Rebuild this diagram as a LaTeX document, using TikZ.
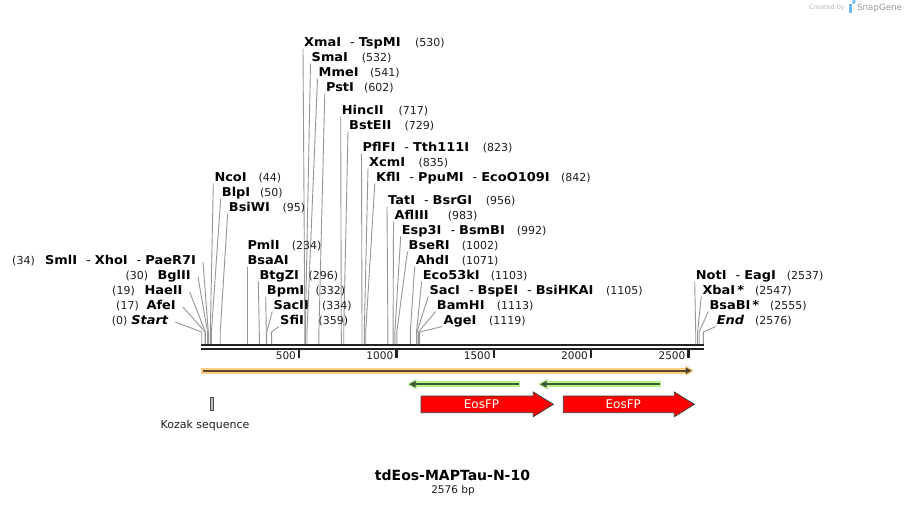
\documentclass[tikz,border=0pt]{standalone}
\usepackage{fontspec}
\setmainfont{DejaVu Sans}
\newfontfamily\labfont{DejaVu Sans}[FakeStretch=1.06]
\definecolor{numc}{RGB}{30,30,30}
\definecolor{connc}{RGB}{150,150,150}
\definecolor{bbc}{RGB}{34,34,34}
\definecolor{orL}{RGB}{253,206,128}
\definecolor{orD}{RGB}{88,72,46}
\definecolor{grL}{RGB}{184,240,140}
\definecolor{grD}{RGB}{62,88,52}
\definecolor{redF}{RGB}{255,0,0}
\definecolor{redO}{RGB}{60,60,60}
\definecolor{logoc}{RGB}{110,185,240}
\newcommand\sepp{\hspace{9pt}{\mdseries -}\hspace{4pt}}
\tikzset{
  lab/.style={inner sep=0pt, text height=8.6pt, text depth=0pt, font=\labfont\fontsize{12.2}{14}\selectfont\bfseries},
  num/.style={inner sep=0pt, text height=8.6pt, text depth=0pt, font=\fontsize{11}{13}\selectfont, text=numc},
  conn/.style={draw=connc, line width=0.9pt},
  bb/.style={draw=bbc, line width=2.3pt},
  tickmark/.style={draw=bbc, line width=2.2pt},
  ticklab/.style={inner sep=0pt, anchor=east, font=\fontsize{10.5}{12}\selectfont, text=numc},
  featarrow/.style={fill=redF, draw=redO, line width=0.8pt},
  featlab/.style={inner sep=0pt, text=white, font=\fontsize{12}{14}\selectfont},
}
% right-hand label: id, x, y, name, number x, number, site x
\newcommand\enzR[7]{%
  \node[lab,anchor=west] (n#1) at (#2,#3) {#4};
  \node[num,anchor=west] (m#1) at (#5,#3) {#6};
  \coordinate (s#1) at (#7,344);
  \draw[conn] ([shift={(-1pt,-2pt)}]n#1.south west) -- ([yshift=12pt]s#1) -- (s#1);
}
% left-hand label: id, right x, y, name, number right x, number, site x
\newcommand\enzL[7]{%
  \node[lab,anchor=east] (n#1) at (#2,#3) {#4};
  \node[num,anchor=east] (m#1) at (#5,#3) {#6};
  \coordinate (s#1) at (#7,344);
  \draw[conn] ([shift={(7pt,2.5pt)}]n#1.south east) -- ([yshift=12pt]s#1) -- (s#1);
}
\begin{document}
\begin{tikzpicture}[x=1pt,y=-1pt]
\fill[white] (0,0) rectangle (906,507);
\useasboundingbox (0,0) rectangle (906,507);

% watermark
\node[inner sep=0pt, anchor=east, text=black!28, font=\fontsize{6.5}{8}\selectfont] (wm1) at (845,8) {Created by};
\fill[logoc] (849,4) rectangle (851.5,13);
\fill[logoc] (851.5,4) -- (853,4) arc (90:-90:2.6) -- (851.5,9.2) -- cycle;
\node[inner sep=0pt, anchor=west, text=black!40, font=\fontsize{8.7}{10}\selectfont] (wm2) at (857,8) {SnapGene};

% backbone
\coordinate (bbL) at (201,345.2);
\coordinate (bbR) at (704.3,345.2);
\draw[bb] (bbL) -- (bbR);
\draw[bb] ([yshift=-4pt]bbL) -- ([yshift=-4pt]bbR);

% ticks
\foreach \t/\xx in {500/299.1,1000/396.4,1500/493.8,2000/591.1,2500/688.5}{
  \draw[tickmark] (\xx,350) -- (\xx,357.7);
  \node[ticklab] (tk\t) at (\xx-3,356) {\t};
}

% top cluster
\enzR{530}{304}{42}{XmaI\sepp TspMI}{415}{(530)}{304.9}
\enzR{532}{311.5}{57}{SmaI}{361.7}{(532)}{305.3}
\enzR{541}{318.5}{72}{MmeI}{370}{(541)}{307.0}
\enzR{602}{325.8}{87}{PstI}{364}{(602)}{318.9}
\enzR{717}{341.7}{110}{HincII}{398.3}{(717)}{341.3}
\enzR{729}{349}{125}{BstEII}{404.3}{(729)}{343.7}
\enzR{823}{362.5}{147}{PflFI\sepp Tth111I}{482.7}{(823)}{362.0}
\enzR{835}{369}{162}{XcmI}{418.3}{(835)}{364.3}
\enzR{842}{375.8}{177}{KflI\sepp PpuMI\sepp EcoO109I}{561}{(842)}{365.7}

% middle cluster
\enzR{956}{388}{200}{TatI\sepp BsrGI}{485.7}{(956)}{387.9}
\enzR{983}{394.5}{215}{AflIII}{447.7}{(983)}{393.1}
\enzR{992}{401.7}{230}{Esp3I\sepp BsmBI}{516.7}{(992)}{394.9}
\enzR{1002}{408.5}{245}{BseRI}{461.7}{(1002)}{396.8}
\enzR{1071}{415.7}{260}{AhdI}{461.7}{(1071)}{410.3}
\enzR{1103}{422.7}{275}{Eco53kI}{490.7}{(1103)}{416.5}
\enzR{1105}{429.3}{290}{SacI\sepp BspEI\sepp BsiHKAI}{606}{(1105)}{416.9}
\enzR{1113}{436.7}{305}{BamHI}{496.7}{(1113)}{418.4}
\enzR{1119}{443.3}{320}{AgeI}{489}{(1119)}{419.6}

% left-middle cluster
\enzR{44}{214.3}{177}{NcoI}{258.3}{(44)}{210.3}
\enzR{50}{221.7}{192}{BlpI}{260}{(50)}{211.4}
\enzR{95}{228.7}{207}{BsiWI}{282.3}{(95)}{220.2}
\node[lab,anchor=west] (nPml) at (247.3,245) {PmlI};
\node[num,anchor=west] (mPml) at (291.7,245) {(234)};
\node[lab,anchor=west] (n234) at (247.3,260) {BsaAI};
\coordinate (s234) at (247.3,344);
\draw[conn] ([shift={(0pt,-2pt)}]n234.south west) -- (s234);
\enzR{296}{259.3}{275}{BtgZI}{308.3}{(296)}{259.3}
\enzR{332}{266.7}{290}{BpmI}{315.5}{(332)}{266.3}
\enzR{334}{273.3}{305}{SacII}{322}{(334)}{266.7}
\enzR{359}{280}{320}{SfiI}{318.3}{(359)}{271.6}

% right cluster
\enzR{2537}{695.7}{275}{NotI\sepp EagI}{786.7}{(2537)}{695.7}
\enzR{2547}{702.3}{290}{XbaI\hspace{2pt}*}{755}{(2547)}{697.6}
\enzR{2555}{709.3}{305}{BsaBI\hspace{2pt}*}{770}{(2555)}{699.2}
\enzR{2576}{716.7}{320}{\itshape End}{755}{(2576)}{703.3}

% left cluster
\enzL{34}{196}{260}{SmlI\sepp XhoI\sepp PaeR7I}{35}{(34)}{208.3}
\enzL{30}{191}{275}{BglII}{148.3}{(30)}{207.5}
\enzL{19}{182.7}{290}{HaeII}{135}{(19)}{205.4}
\enzL{17}{176}{305}{AfeI}{139}{(17)}{205.0}
\enzL{0}{168.3}{320}{\itshape Start}{127.7}{(0)}{201.7}

% orange feature
\fill[orL] (201,367.7) rectangle (687,373.7);
\fill[orL] (686,365.5) -- (693.7,370.7) -- (686,375.9) -- cycle;
\draw[orD, line width=2pt] (203,370.7) -- (687,370.7);
\fill[orD] (685.5,367.2) -- (691.7,370.7) -- (685.5,374.2) -- cycle;

% green arrows
\fill[grL] (416,381.2) rectangle (520,387.2);
\fill[grL] (416.5,379) -- (407,384.2) -- (416.5,389.4) -- cycle;
\draw[grD, line width=2pt] (415,384.2) -- (518.5,384.2);
\fill[grD] (415.5,380.8) -- (409.2,384.2) -- (415.5,387.6) -- cycle;

\fill[grL] (547,381.2) rectangle (661,387.2);
\fill[grL] (547.5,379) -- (538,384.2) -- (547.5,389.4) -- cycle;
\draw[grD, line width=2pt] (546,384.2) -- (659.5,384.2);
\fill[grD] (546.5,380.8) -- (540.2,384.2) -- (546.5,387.6) -- cycle;

% EosFP arrows
\draw[featarrow] (421,396) -- (533.3,396) -- (533.3,392) -- (553.3,404.3) -- (533.3,416.7) -- (533.3,412.7) -- (421,412.7) -- cycle;
\node[featlab] (eos1) at (481.5,404.3) {EosFP};
\draw[featarrow] (563.3,396) -- (674.3,396) -- (674.3,392) -- (694.3,404.3) -- (674.3,416.7) -- (674.3,412.7) -- (563.3,412.7) -- cycle;
\node[featlab] (eos2) at (623.3,404.3) {EosFP};

% Kozak
\draw[fill=black!25, draw=black!70, line width=0.6pt] (210,397.3) rectangle (213,410.3);
\node[inner sep=0pt, font=\fontsize{11}{13}\selectfont, text=numc] (kozak) at (205,425.5) {Kozak sequence};

% title
\node[inner sep=0pt, font=\fontsize{14}{16}\selectfont\bfseries] (title) at (452.5,475.5) {tdEos-MAPTau-N-10};
\node[inner sep=0pt, font=\fontsize{10.5}{12}\selectfont, text=numc] (bp) at (453,491) {2576 bp};
\end{tikzpicture}
\end{document}
